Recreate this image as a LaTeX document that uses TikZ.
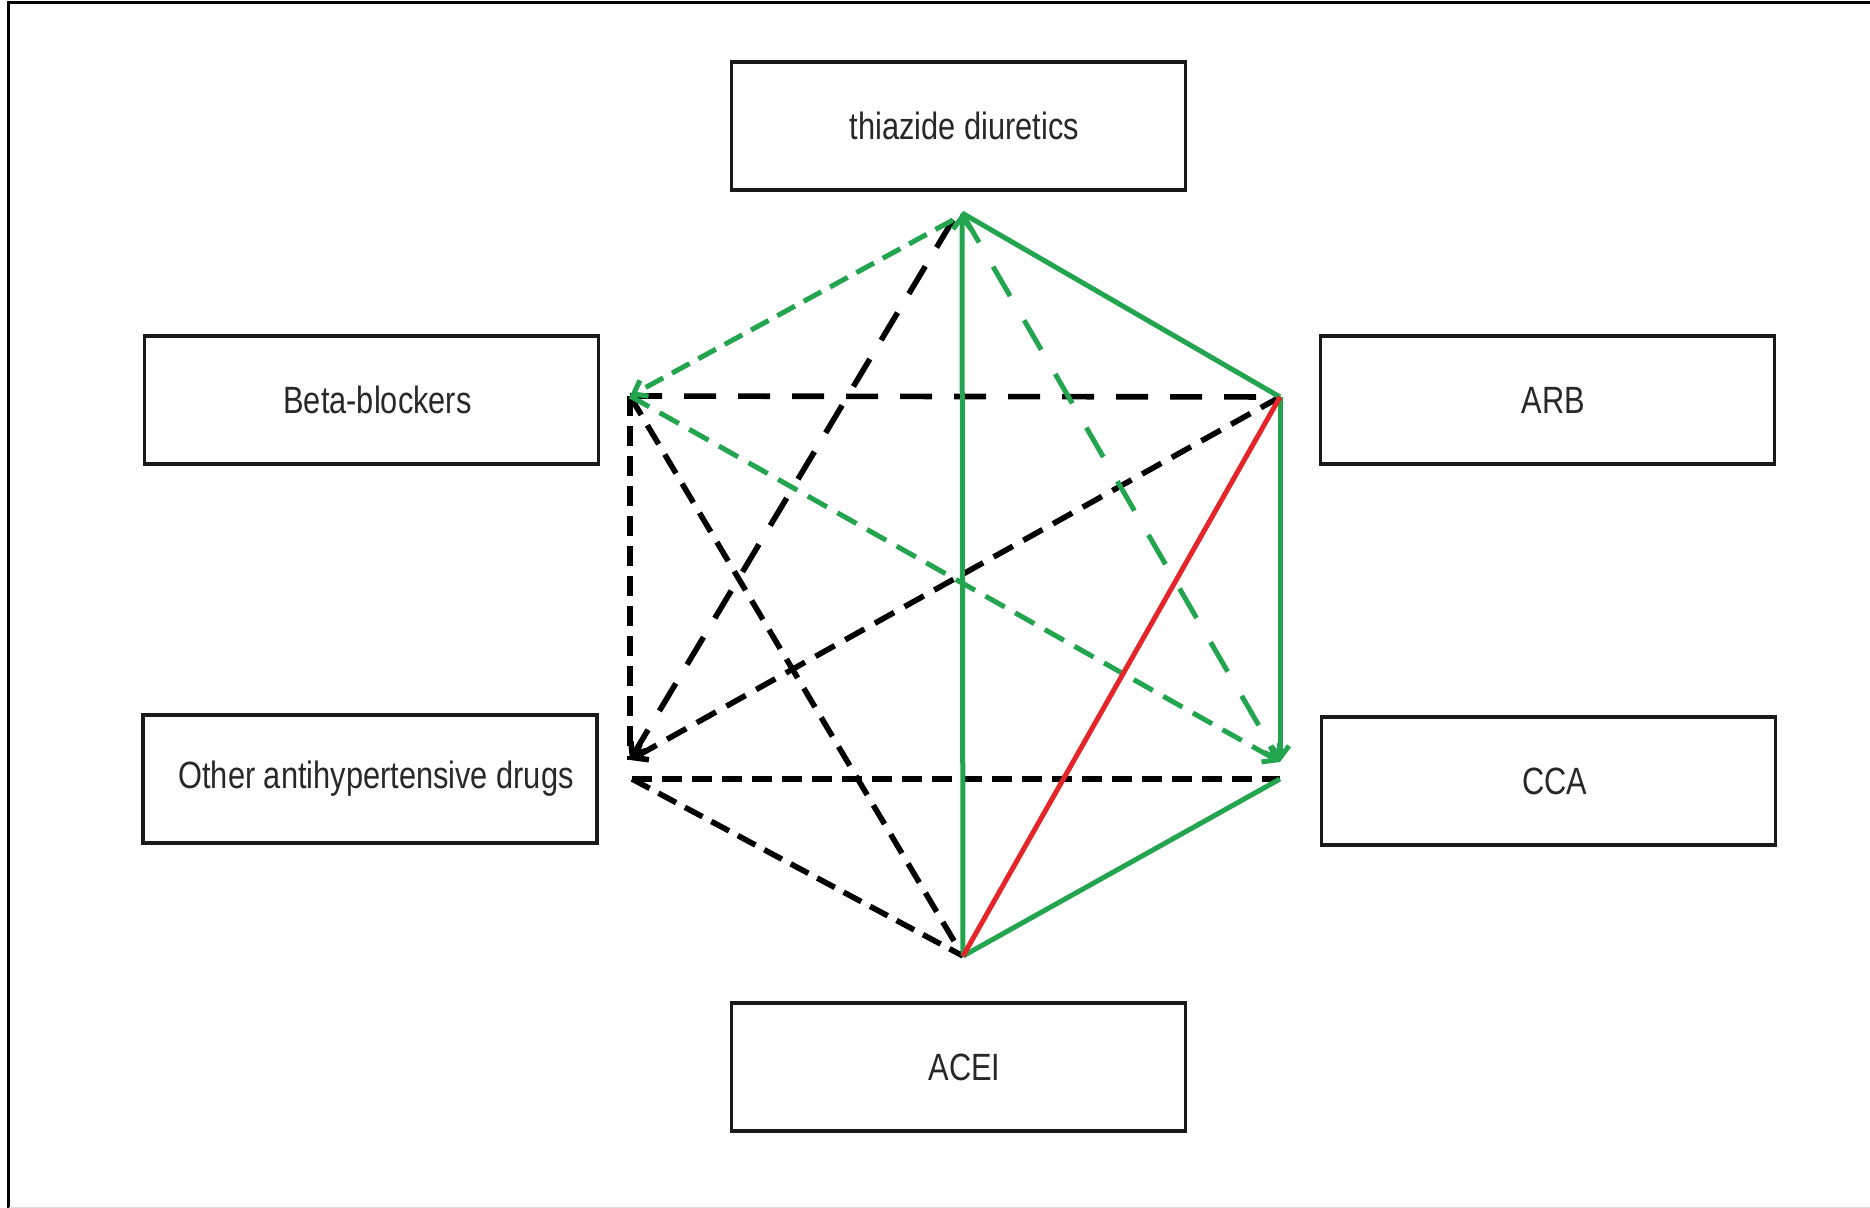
\documentclass[tikz,border=0pt]{standalone}
\usepackage{fontspec}
\setmainfont{Liberation Sans}[FakeStretch=0.81]
\usetikzlibrary{arrows.meta}
\definecolor{drgreen}{RGB}{35,165,80}
\definecolor{drred}{RGB}{228,38,42}
\definecolor{txtgray}{RGB}{40,40,40}
\begin{document}
\begin{tikzpicture}[x=0.5pt,y=-0.5pt,
  drugbox/.style={draw=black!90, line width=1.6pt, minimum width=227pt,
    minimum height=64pt, inner sep=0pt, text=txtgray,
    font=\fontsize{19}{22}\selectfont},
  link/.style={line width=2.5pt},
  blk/.style={line width=2.8pt, black},
  grn/.style={link, drgreen},
  tip/.style={-{Straight Barb[length=6pt,width=9pt]}},
  longdash/.style={dash pattern=on 16pt off 11pt},
  middash/.style={dash pattern=on 11pt off 6pt},
  shortdash/.style={dash pattern=on 10pt off 5pt},
  greenlong/.style={dash pattern=on 17pt off 14pt}
]
\useasboundingbox (0,0) rectangle (1870,1208);
\fill[white] (0,0) rectangle (1870,1208);
% outer frame
\draw[line width=1.5pt] (8.5,1208) -- (8.5,2.5) -- (1870,2.5);
\draw[black!12, line width=1pt] (8.5,1207.5) -- (1870,1207.5);

% drug class boxes
\node[drugbox] (thz) at (958.5,126) {\hspace*{6pt}thiazide diuretics};
\node[drugbox] (bb)  at (371.5,400) {\hspace*{6pt}Beta-blockers};
\node[drugbox] (arb) at (1547.5,400) {\hspace*{6pt}ARB};
\node[drugbox] (oth) at (370,779) {\hspace*{6pt}Other antihypertensive drugs};
\node[drugbox] (cca) at (1548.5,781) {\hspace*{6pt}CCA};
\node[drugbox] (acei) at (958.5,1067) {\hspace*{6pt}ACEI};

% hexagon vertices
\coordinate (vT) at (962,213);
\coordinate (vTl) at (953,220);
\coordinate (vB) at (630,396);
\coordinate (vR) at (1280,397);
\coordinate (vOa) at (630,760);
\coordinate (vOb) at (632,779);
\coordinate (vCa) at (1280,762);
\coordinate (vCb) at (1280,779);
\coordinate (vA) at (963,956);

% black dashed links
\draw[blk, longdash] (vB) -- (vR);
\draw[blk, shortdash] (vB) -- (vOa);
\draw[blk, middash] (vB) -- (vA);
\draw[blk, longdash, tip] (vTl) -- (vOa);
\draw[blk, middash, tip] (vR) -- (vOa);
\draw[blk, shortdash] (vOb) -- (vCb);
\draw[blk, shortdash] (vOb) -- (vA);

% green dashed links
\draw[grn, shortdash, tip] (vTl) -- (vB);
\draw[grn, greenlong, tip] (vT) -- (vCa);
\draw[grn, middash, tip] (vB) -- (vCa);

% solid links
\draw[grn] (vT) -- (vR);
\draw[grn, tip] (vR) -- (vCa);
\draw[grn] (vCb) -- (vA);
\draw[grn, tip] (vA) -- (vT);
\draw[link, drred] (vR) -- (vA);
\end{tikzpicture}
\end{document}
